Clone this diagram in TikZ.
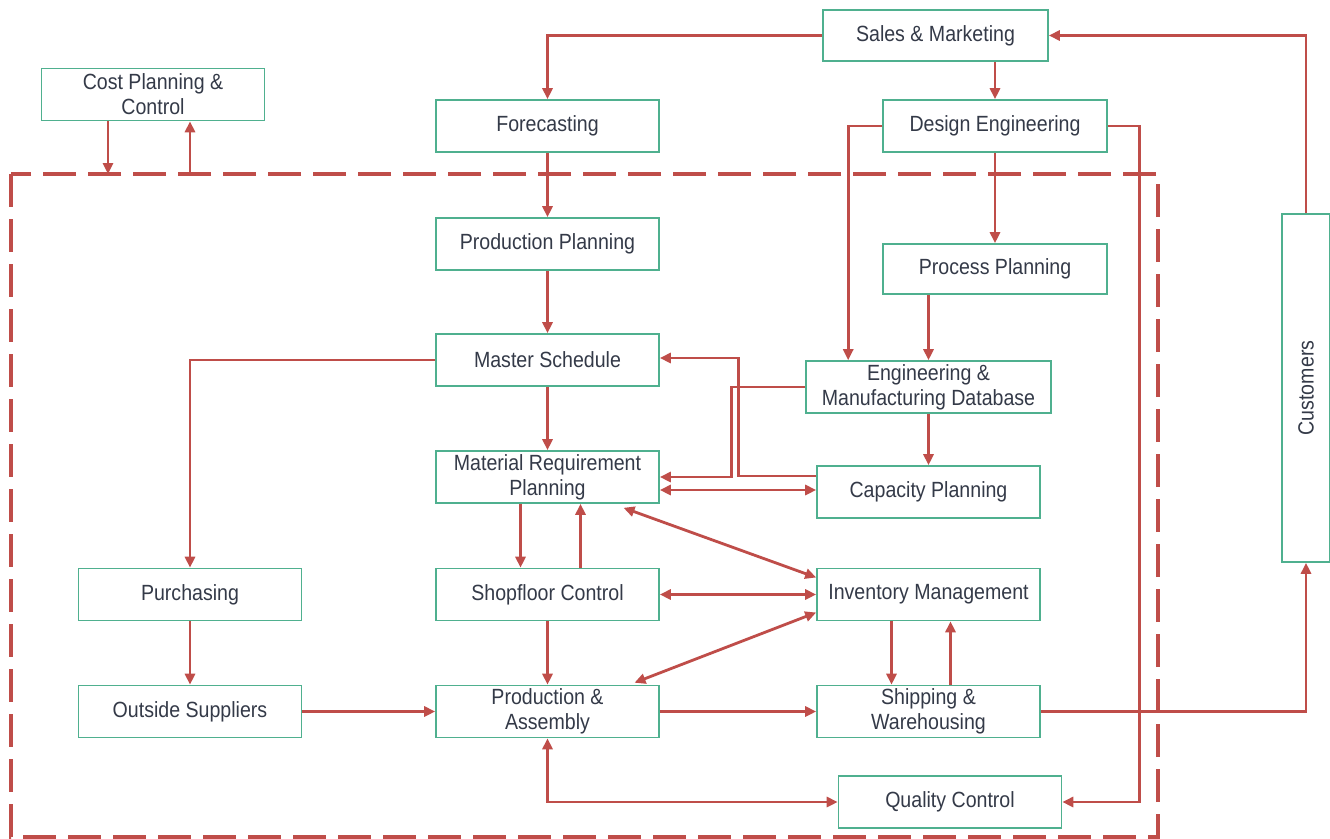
\documentclass[tikz,border=0pt]{standalone}
\usepackage{fontspec}
\setmainfont[FakeStretch=0.89]{Liberation Sans}
\usetikzlibrary{arrows.meta,calc}
\definecolor{boxgreen}{HTML}{4FB08F}
\definecolor{linered}{HTML}{BF4D49}
\definecolor{txt}{HTML}{343A48}
\begin{document}
\begin{tikzpicture}[x=1pt,y=-1pt,
  blk/.style={draw=boxgreen, line width=1.6pt, fill=white, text=txt, minimum width=223pt, minimum height=52pt, inner sep=0pt, align=center, font=\fontsize{22}{25}\selectfont},
  arr/.style={draw=linered, line width=2.8pt, -{Triangle[length=11pt,width=10pt]}},
  dbl/.style={draw=linered, line width=2.8pt, {Triangle[length=11pt,width=10pt]}-{Triangle[length=11pt,width=10pt]}},
  frame/.style={draw=linered, line width=4.5pt, dash pattern=on 33pt off 12pt}]
\useasboundingbox (0,0) rectangle (1330,838);
\fill[white] (0,0) rectangle (1330,838);
\draw[frame] (11,174) rectangle (1158,837);

\node[blk, minimum width=225pt, minimum height=51pt] (sm) at (935.5,35.5) {Sales \& Marketing};
\node[blk] (cost) at (153,94.5) {Cost Planning \&\\Control};
\node[blk] (fore) at (547.5,126) {Forecasting};
\node[blk, minimum width=224pt] (de) at (995,126) {Design Engineering};
\node[blk] (pp) at (547.5,244) {Production Planning};
\node[blk, minimum width=224pt, minimum height=50pt] (proc) at (995,269) {Process Planning};
\node[blk] (ms) at (547.5,360) {Master Schedule};
\node[blk, minimum width=245pt] (edb) at (928.5,387) {Engineering \&\\Manufacturing Database};
\node[blk] (mrp) at (547.5,477) {Material Requirement\\Planning};
\node[blk] (cap) at (928.5,492) {Capacity Planning};
\node[blk] (pur) at (190,594.5) {Purchasing};
\node[blk] (sf) at (547.5,594.5) {Shopfloor Control};
\node[blk] (inv) at (928.5,594.5) {Inventory Management};
\node[blk] (os) at (190,711.5) {Outside Suppliers};
\node[blk] (pa) at (547.5,711.5) {Production \&\\Assembly};
\node[blk] (sw) at (928.5,711.5) {Shipping \&\\Warehousing};
\node[blk] (qc) at (950,802) {Quality Control};
\node[blk, minimum width=48pt, minimum height=348pt] (cust) at (1306,388) {\rotatebox{90}{Customers}};

\coordinate (f1) at (108,174);
\coordinate (f2) at (190,174);

\draw[arr] (sm.west) -| (fore.north);
\draw[arr] (de.north |- sm.south) -- (de.north);
\draw[arr] (cust.north) |- (sm.east);
\draw[arr] (de.west) -| ($(edb.north west)+(43,0)$);
\draw[arr] (de.south) -- (proc.north);
\draw[arr] (de.east) -- ++(32,0) |- (qc.east);
\draw[arr] (fore.south) -- (pp.north);
\draw[arr] (pp.south) -- (ms.north);
\draw[arr] (ms.south) -- (mrp.north);
\draw[arr] (proc.south -| edb.north) -- (edb.north);
\draw[arr] (ms.west) -| (pur.north);
\draw[arr] ($(cap.west)+(0,-16)$) -| ($(ms.east)+(79,-2)$) -- ($(ms.east)+(0,-2)$);
\draw[arr] (edb.west) -| ($(mrp.east)+(72,0)$) -- (mrp.east);
\draw[dbl] ($(mrp.east)+(0,13)$) -- ($(cap.west)+(0,-2)$);
\draw[arr] (edb.south) -- (cap.north);
\draw[arr] ($(mrp.south)+(-27,0)$) -- ($(sf.north)+(-27,0)$);
\draw[arr] ($(sf.north)+(33,0)$) -- ($(mrp.south)+(33,0)$);
\draw[dbl] ($(mrp.south)+(76,4)$) -- ($(inv.west)+(0,-17)$);
\draw[dbl] (sf.east) -- (inv.west);
\draw[arr] (sf.south) -- (pa.north);
\draw[dbl] ($(inv.west)+(0,18)$) -- ($(pa.north)+(87,-2)$);
\draw[arr] (pur.south) -- (os.north);
\draw[arr] (os.east) -- (pa.west);
\draw[arr] (pa.east) -- (sw.west);
\draw[arr] ($(inv.south)+(-37,0)$) -- ($(sw.north)+(-37,0)$);
\draw[arr] ($(sw.north)+(22,0)$) -- ($(inv.south)+(22,0)$);
\draw[arr] (sw.east) -| (cust.south);
\draw[dbl] (pa.south) |- (qc.west);
\draw[arr] ($(cost.south)+(-45,0)$) -- (f1);
\draw[arr] (f2) -- ($(cost.south)+(37,0)$);
\end{tikzpicture}
\end{document}
